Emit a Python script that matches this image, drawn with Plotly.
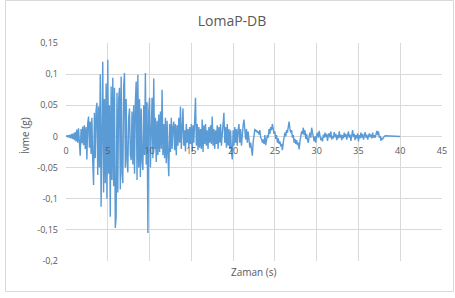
import plotly.graph_objects as go

# ---- data ----
DT = 0.1  # sample step in seconds
accel = [
    # 0 s
    0, 0.001, -0.001, 0.002, -0.002, 0.003, -0.003, 0.004, -0.004, 0.005,
    # 1 s
    -0.006, 0.007, -0.008, 0.011, -0.010, 0.013, -0.009, -0.031, 0.012, -0.011,
    # 2 s
    0.016, -0.014, 0.018, -0.020, 0.015, -0.037, 0.021, 0.032, -0.018, 0.024,
    # 3 s
    -0.028, 0.030, -0.040, -0.078, 0.038, -0.035, 0.042, 0.054, -0.062, 0.048,
    # 4 s
    -0.050, 0.100, -0.113, 0.070, 0.120, -0.090, 0.060, -0.075, 0.085, -0.100,
    # 5 s
    0.123, -0.060, 0.050, -0.129, 0.080, -0.070, 0.094, -0.080, 0.078, -0.147,
    # 6 s
    -0.130, 0.070, -0.090, 0.060, 0.078, -0.085, 0.096, -0.060, -0.075, 0.080,
    # 7 s
    0.102, -0.050, 0.060, -0.040, -0.058, 0.030, 0.045, -0.030, -0.038, 0.040,
    # 8 s
    -0.045, 0.050, -0.060, 0.055, 0.088, -0.070, 0.099, -0.050, 0.060, -0.065,
    # 9 s
    0.045, -0.040, -0.054, 0.050, -0.030, 0.102, -0.045, 0.055, -0.155, 0.040,
    # 10 s
    0.062, -0.050, 0.030, 0.062, -0.035, 0.093, -0.020, 0.030, -0.041, 0.025,
    # 11 s
    -0.030, 0.035, -0.025, 0.040, -0.020, 0.075, -0.030, 0.020, -0.035, 0.030,
    # 12 s
    -0.043, 0.025, -0.030, -0.064, 0.020, -0.025, 0.030, -0.020, 0.015, 0.024,
    # 13 s
    -0.022, 0.020, -0.030, 0.018, -0.015, 0.030, -0.010, 0.048, -0.020, 0.015,
    # 14 s
    0.045, -0.015, 0.010, -0.024, 0.020, -0.010, 0.012, -0.018, 0.015, -0.012,
    # 15 s
    0.020, -0.025, 0.018, -0.010, 0.025, 0.062, -0.015, 0.020, -0.022, 0.015,
    # 16 s
    -0.018, 0.012, -0.020, 0.027, -0.025, 0.018, -0.012, 0.020, -0.015, 0.010,
    # 17 s
    -0.020, 0.015, -0.010, 0.018, -0.012, 0.032, -0.015, 0.012, -0.020, 0.010,
    # 18 s
    -0.012, 0.018, -0.020, 0.015, -0.010, 0.020, -0.015, 0.010, 0.020, 0.038,
    # 19 s
    -0.010, 0.015, -0.018, 0.020, -0.015, 0.012, -0.020, 0.010, -0.025, -0.037,
    # 20 s
    0.010, -0.015, 0.015, -0.010, 0.012, -0.015, 0.010, 0.020, -0.010, 0.012,
    # 21 s
    -0.015, 0.010, 0.018, 0.027, 0.015, -0.005, 0.012, -0.010, 0.008, -0.012,
    # 22 s
    -0.018, -0.010, -0.020, -0.031, -0.010, 0.005, 0.012, 0.008, 0.010, 0.006,
    # 23 s
    0.008, 0.003, 0.010, -0.002, -0.004, -0.010, -0.005, -0.012, 0.002, -0.014,
    # 24 s
    -0.006, 0.002, -0.002, 0.012, 0.004, 0.015, 0.010, 0.020, 0.012, 0.004,
    # 25 s
    0.008, -0.004, 0.002, -0.010, -0.003, -0.012, -0.008, -0.016, -0.012, -0.022,
    # 26 s
    -0.010, -0.004, 0.006, 0.000, 0.010, 0.006, 0.018, 0.024, 0.012, 0.006,
    # 27 s
    0.010, -0.002, 0.002, -0.010, -0.004, -0.012, -0.006, -0.014, -0.010, -0.021,
    # 28 s
    -0.008, 0.002, 0.008, 0.004, 0.014, 0.002, 0.010, -0.004, 0.004, -0.006,
    # 29 s
    -0.010, 0.000, 0.006, -0.002, 0.014, 0.006, -0.004, -0.008, 0.000, -0.010,
    # 30 s
    0.002, 0.006, -0.002, 0.009, 0.001, -0.006, -0.002, -0.008, 0.003, -0.002,
    # 31 s
    0.006, -0.001, 0.004, -0.007, 0.002, 0.005, -0.002, 0.008, -0.005, 0.001,
    # 32 s
    -0.003, 0.007, -0.001, 0.004, -0.006, 0.002, -0.003, 0.008, -0.002, 0.003,
    # 33 s
    -0.006, 0.002, -0.003, 0.006, -0.001, 0.004, -0.005, 0.003, 0.008, -0.002,
    # 34 s
    0.003, -0.007, 0.002, 0.010, -0.001, 0.004, -0.006, 0.002, -0.003, 0.005,
    # 35 s
    -0.008, 0.002, -0.003, 0.006, -0.002, 0.004, -0.005, 0.003, 0.007, -0.002,
    # 36 s
    0.003, -0.005, 0.002, 0.005, -0.001, 0.003, -0.003, 0.006, -0.002, 0.002,
    # 37 s
    -0.002, 0.004, 0.009, 0.002, 0.008, -0.002, 0.001, -0.007, -0.003, -0.004,
    # 38 s
    -0.001, 0.000, 0.001, 0.001, 0.000, 0.001, 0.000, 0.000, 0.001, 0.000,
    # 39 s
    0.000, 0.000, 0.000, 0.001, 0.000, 0.000, 0.000, 0.000, 0.000, 0.000,
    # 40 s
    0.000,
]
time = [round(i * DT, 1) for i in range(len(accel))]

x_tickvals = [0, 5, 10, 15, 20, 25, 30, 35, 40, 45]
y_tickvals = [0.15, 0.1, 0.05, 0, -0.05, -0.1, -0.15, -0.2]
y_ticktext = ["0,15", "0,1", "0,05", "0", "-0,05", "-0,1", "-0,15", "-0,2"]

title_text = "LomaP-DB"
x_title = "Zaman (s)"
y_title = "İvme (g)"

# ---- layout geometry ----
W, H = 455, 298
L, R, T, B = 66, 13, 43, 37
pw, ph = W - L - R, H - T - B
Y_MIN, Y_MAX = -0.2, 0.15

def px_x(p):  # pixel -> paper x
    return (p - L) / pw

def px_y(p):  # pixel -> paper y
    return (H - B - p) / ph

grid = "#D9D9D9"
txt = "#595959"
font = "Open Sans"

fig = go.Figure()
fig.add_trace(go.Scatter(
    x=time, y=accel, mode="lines",
    line=dict(color="#5B9BD5", width=1.4),
    showlegend=False, hoverinfo="skip",
))

fig.update_layout(
    width=W, height=H,
    margin=dict(l=L, r=R, t=T, b=B, autoexpand=False),
    paper_bgcolor="white", plot_bgcolor="white",
    separators=",.",
    font=dict(family=font, color=txt, size=9),
    title=dict(text=title_text, x=232 / W, xref="container", xanchor="center",
               y=1 - 21 / H, yref="container", yanchor="middle",
               font=dict(size=14, color=txt, family=font)),
    xaxis=dict(
        range=[0, 45], tickvals=x_tickvals,
        showgrid=True, gridcolor=grid, gridwidth=1,
        zeroline=False, showline=False, automargin=False,
        anchor="free", position=(0 - Y_MIN) / (Y_MAX - Y_MIN),
        ticks="", ticklabelstandoff=8,
        tickfont=dict(size=9, color=txt, family=font),
    ),
    yaxis=dict(
        range=[Y_MIN, Y_MAX], tickvals=y_tickvals, ticktext=y_ticktext,
        showgrid=True, gridcolor=grid, gridwidth=1,
        zeroline=True, zerolinecolor=grid, zerolinewidth=1,
        showline=False, ticks="", ticklabelstandoff=7, automargin=False,
        tickfont=dict(size=9, color=txt, family=font),
    ),
    annotations=[
        dict(text=x_title, xref="paper", yref="paper", x=0.5, y=px_y(272),
             xanchor="center", yanchor="middle", showarrow=False,
             font=dict(size=10, color=txt, family=font)),
        dict(text=y_title, xref="paper", yref="paper", x=px_x(25), y=px_y(136),
             xanchor="center", yanchor="middle", showarrow=False, textangle=-90,
             font=dict(size=10, color=txt, family=font)),
    ],
    shapes=[
        dict(type="rect", xref="paper", yref="paper",
             x0=px_x(5.5), x1=px_x(453.5), y0=px_y(291.5), y1=px_y(0.5),
             line=dict(color="#D9D9D9", width=1), fillcolor="rgba(0,0,0,0)",
             layer="below"),
    ],
)

fig.write_html("out.html", config={"displayModeBar": False},
               post_script="document.body.style.margin='0';")
